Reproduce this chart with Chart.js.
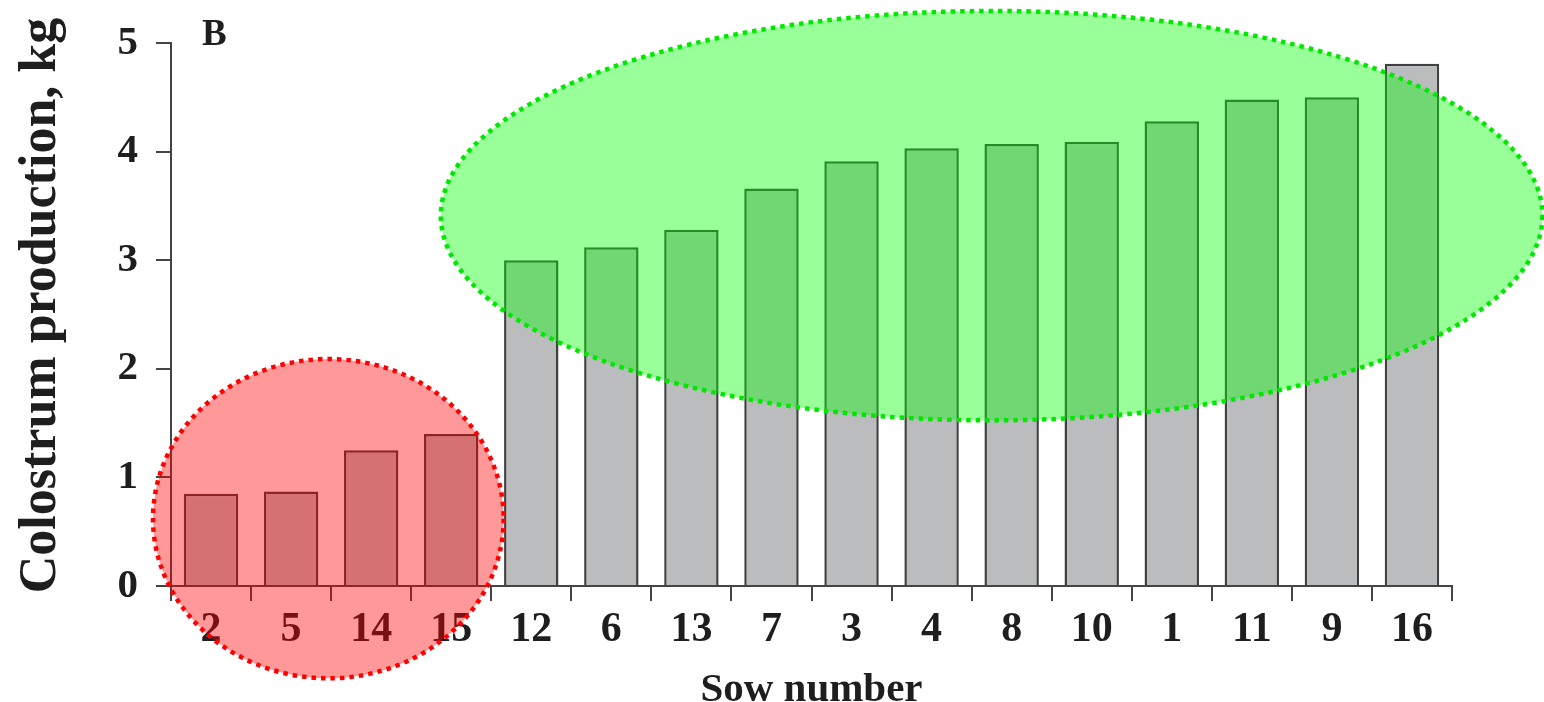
<!DOCTYPE html>
<html>
<head>
<meta charset="utf-8">
<title>Colostrum production by sow</title>
<script src="https://cdn.jsdelivr.net/npm/chart.js@4.4.1/dist/chart.umd.min.js"></script>
<style>
  html, body { margin: 0; padding: 0; background: #ffffff; }
  #wrap { width: 1544px; height: 702px; position: relative; }
</style>
</head>
<body>
<div id="wrap"><canvas id="chart" width="1544" height="702"></canvas></div>
<script>
// Sows, ordered by colostrum production
const sowNumbers = ['2', '5', '14', '15', '12', '6', '13', '7', '3', '4', '8', '10', '1', '11', '9', '16'];
const colostrumKg = [0.85, 0.87, 1.25, 1.40, 3.00, 3.12, 3.28, 3.66, 3.91, 4.03, 4.07, 4.09, 4.28, 4.48, 4.50, 4.81];
const yTicks = [0, 1, 2, 3, 4, 5];
const yTitle = 'Colostrum production, kg';
const xTitle = 'Sow number';
const panelTag = 'B';

// Highlight zones, in data units (category index / kg)
const lowProducers = { cx: 1.465, cy: 0.62, rx: 2.19, ry: 1.47, fill: 'rgba(255,0,0,0.4)', stroke: '#ff0000' };
const highProducers = { cx: 9.75, cy: 3.41, rx: 6.88, ry: 1.885, fill: 'rgba(0,255,0,0.4)', stroke: '#00e800' };

const SERIF = '"Liberation Serif", "Times New Roman", serif';
const INK = '#1e1e1e';
const AXIS = '#444444';

// Rotated y-axis caption, placed left of the tick labels
const yCaption = {
  id: 'yCaption',
  afterDraw(chart) {
    const { ctx, chartArea } = chart;
    ctx.save();
    ctx.translate(42, (chartArea.top + chartArea.bottom) / 2 - 9);
    ctx.rotate(-Math.PI / 2);
    ctx.font = 'bold 52px ' + SERIF;
    ctx.fillStyle = INK;
    ctx.textAlign = 'center';
    ctx.textBaseline = 'middle';
    ctx.fillText(yTitle, 0, 0);
    ctx.restore();
  }
};

const zonesPlugin = {
  id: 'zones',
  afterDraw(chart) {
    const { ctx } = chart;
    const xs = chart.scales.x, ys = chart.scales.y;
    for (const z of [lowProducers, highProducers]) {
      const cx = xs.getPixelForValue(z.cx);
      const cy = ys.getPixelForValue(z.cy);
      const rx = Math.abs(xs.getPixelForValue(z.cx + z.rx) - cx);
      const ry = Math.abs(ys.getPixelForValue(z.cy + z.ry) - cy);
      ctx.save();
      ctx.beginPath();
      ctx.ellipse(cx, cy, rx, ry, 0, 0, Math.PI * 2);
      ctx.fillStyle = z.fill;
      ctx.fill();
      ctx.setLineDash([4.5, 5]);
      ctx.lineWidth = 4.5;
      ctx.strokeStyle = z.stroke;
      ctx.stroke();
      ctx.restore();
    }
  }
};

const panelLetter = {
  id: 'panelLetter',
  afterDraw(chart) {
    const { ctx, chartArea } = chart;
    ctx.save();
    ctx.font = 'bold 37px ' + SERIF;
    ctx.fillStyle = INK;
    ctx.textBaseline = 'alphabetic';
    ctx.textAlign = 'left';
    ctx.fillText(panelTag, chartArea.left + 31, chartArea.top + 2);
    ctx.restore();
  }
};

new Chart(document.getElementById('chart'), {
  type: 'bar',
  data: {
    labels: sowNumbers,
    datasets: [{
      data: colostrumKg,
      backgroundColor: '#bbbcbe',
      borderColor: '#404040',
      borderWidth: 2.5,
      categoryPercentage: 1.0,
      barPercentage: 0.68
    }]
  },
  options: {
    responsive: false,
    animation: false,
    devicePixelRatio: 1,
    layout: { padding: { top: 43, right: 92, bottom: 0, left: 0 } },
    plugins: {
      legend: { display: false },
      tooltip: { enabled: false }
    },
    scales: {
      x: {
        afterFit(scale) { scale.height = 116; },
        grid: { drawOnChartArea: false, drawTicks: true, tickLength: 15, color: AXIS, lineWidth: 2, offset: true },
        border: { display: true, color: AXIS, width: 2 },
        ticks: {
          autoSkip: false, maxRotation: 0, padding: 8, color: INK,
          font: { family: SERIF, size: 42, weight: 'bold', lineHeight: 1 }
        },
        title: {
          display: true, text: xTitle, color: INK, padding: 0,
          font: { family: SERIF, size: 41, weight: 'bold', lineHeight: 0.55 }
        }
      },
      y: {
        min: 0, max: 5,
        afterFit(scale) { scale.width = 171; },
        afterBuildTicks(scale) { scale.ticks = yTicks.map(v => ({ value: v })); },
        grid: { drawOnChartArea: false, drawTicks: true, tickLength: 15, color: AXIS, lineWidth: 2 },
        border: { display: true, color: AXIS, width: 2 },
        ticks: {
          padding: 18, color: INK,
          font: { family: SERIF, size: 41, weight: 'bold', lineHeight: 1 }
        },
        title: { display: false }
      }
    }
  },
  plugins: [zonesPlugin, yCaption, panelLetter]
});
</script>
</body>
</html>
